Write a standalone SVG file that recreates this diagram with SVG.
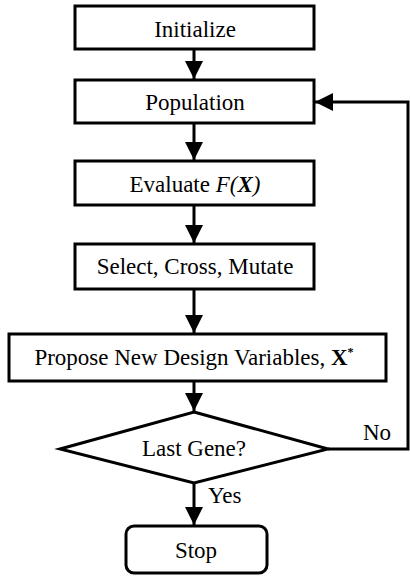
<svg xmlns="http://www.w3.org/2000/svg" width="410" height="576" viewBox="0 0 410 576">
<defs>
<style>
.box{fill:#fff;stroke:#000;stroke-width:3}
.t{font-family:"Liberation Serif","Times New Roman",serif;font-size:23px;fill:#000;text-anchor:middle}
.lbl{font-family:"Liberation Serif","Times New Roman",serif;font-size:23px;fill:#000}
.c{fill:none;stroke:#000;stroke-width:3}
</style>
<marker id="ah" viewBox="0 0 10 10" refX="10" refY="5" markerWidth="6" markerHeight="6" markerUnits="strokeWidth" orient="auto">
<path d="M0,0 L10,5 L0,10 Z" fill="#000"/>
</marker>
</defs>
<rect width="410" height="576" fill="#fff"/>
<g id="connectors">
<line class="c" x1="194" y1="49" x2="194" y2="79" marker-end="url(#ah)"/>
<line class="c" x1="194" y1="123" x2="194" y2="160" marker-end="url(#ah)"/>
<line class="c" x1="194" y1="205" x2="194" y2="243" marker-end="url(#ah)"/>
<line class="c" x1="194" y1="289" x2="194" y2="333" marker-end="url(#ah)"/>
<line class="c" x1="194" y1="381" x2="194" y2="411" marker-end="url(#ah)"/>
<line class="c" x1="194" y1="483" x2="194" y2="525" marker-end="url(#ah)"/>
<polyline class="c" points="328,449 408,449 408,102 315,102" marker-end="url(#ah)"/>
</g>
<g id="initialize">
<rect class="box" x="75" y="6" width="239" height="43"/>
<text class="t" x="195" y="37">Initialize</text>
</g>
<g id="population">
<rect class="box" x="75" y="80" width="239" height="43"/>
<text class="t" x="195" y="110">Population</text>
</g>
<g id="evaluate">
<rect class="box" x="75" y="161" width="239" height="44"/>
<text class="t" x="195" y="192">Evaluate <tspan font-style="italic">F(</tspan><tspan font-style="italic" font-weight="bold">X</tspan><tspan font-style="italic">)</tspan></text>
</g>
<g id="propose">
<rect class="box" x="9" y="334" width="377" height="47"/>
<text class="t" x="194" y="365">Propose New Design Variables, <tspan font-weight="bold">X</tspan><tspan font-weight="bold" font-size="12px" dy="-9">*</tspan></text>
</g>
<g id="select">
<rect class="box" x="75" y="244" width="239" height="45"/>
<text class="t" x="195" y="274">Select, Cross, Mutate</text>
</g>
<g id="lastgene">
<polygon class="box" points="194,412 328,449 194,483 60,449"/>
<text class="t" x="194" y="456">Last Gene?</text>
</g>
<g id="stop">
<rect class="box" x="126" y="526" width="141" height="47" rx="8" ry="8"/>
<text class="t" x="196" y="558">Stop</text>
</g>
<text class="lbl" x="363" y="440">No</text>
<text class="lbl" x="208" y="503">Yes</text>
</svg>
